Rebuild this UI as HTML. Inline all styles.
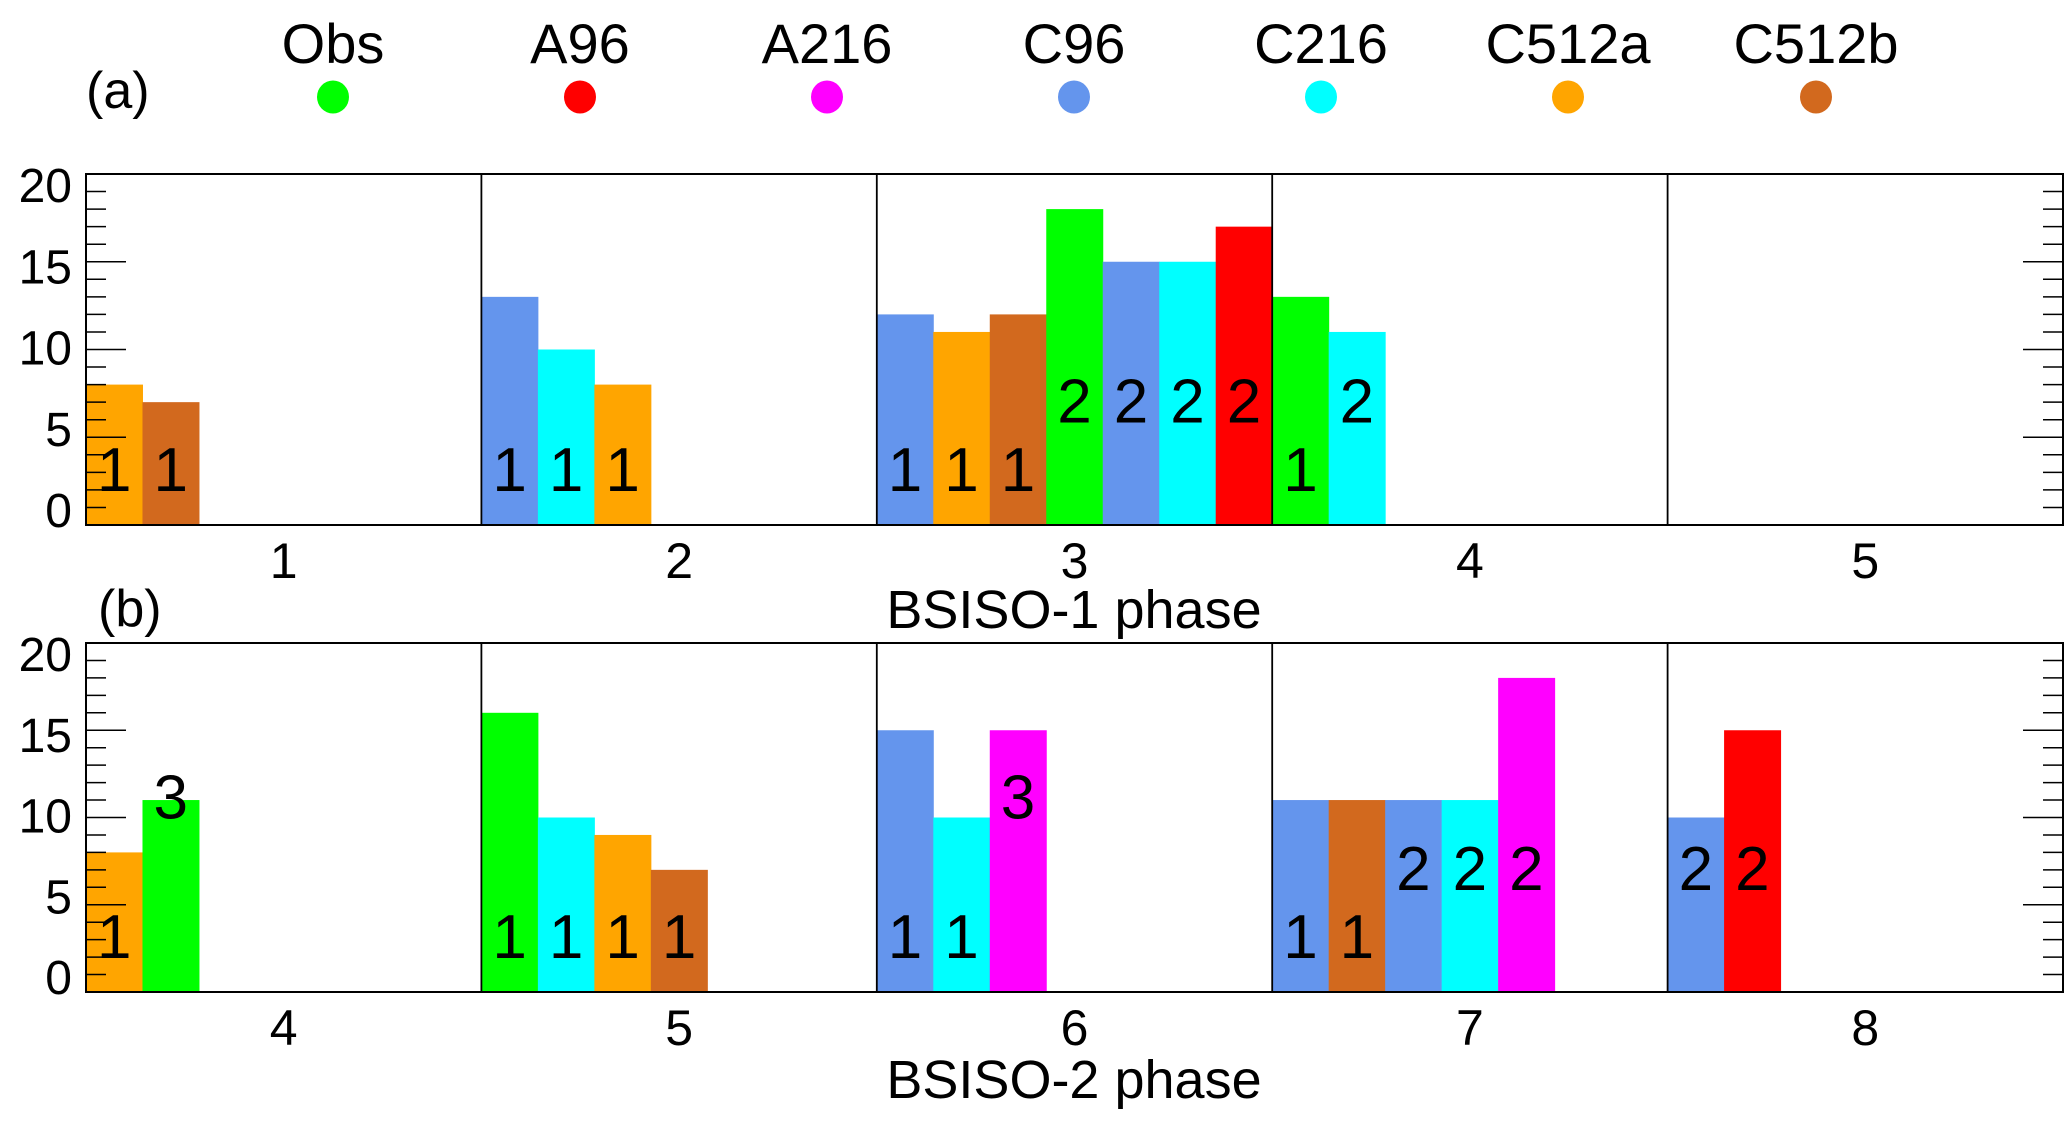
<!DOCTYPE html>
<html><head><meta charset="utf-8">
<style>
html,body{margin:0;padding:0;background:#fff;}
svg{display:block;font-family:"Liberation Sans",sans-serif;}
</style></head>
<body>
<svg id="chart" width="2066" height="1124" viewBox="0 0 2066 1124" xmlns="http://www.w3.org/2000/svg"></svg>
<script>
// ---- data ----
const legendNames = ["Obs","A96","A216","C96","C216","C512a","C512b"];
const legendColors = ["#00ff00","#ff0000","#ff00ff","#6495ed","#00ffff","#ffa500","#d2691e"];
const yTicks = [0,5,10,15,20];
const phasesA = [1,2,3,4,5];
const phasesB = [4,5,6,7,8];
// panel a bars
const aPhase = [1,1, 2,2,2, 3,3,3,3,3,3,3, 4,4];
const aModel = ["C512a","C512b", "C96","C216","C512a", "C96","C512a","C512b","Obs","C96","C216","A96", "Obs","C216"];
const aValue = [8,7, 13,10,8, 12,11,12,18,15,15,17, 13,11];
const aRank  = [1,1, 1,1,1, 1,1,1,2,2,2,2, 1,2];
// panel b bars
const bPhase = [4,4, 5,5,5,5, 6,6,6, 7,7,7,7,7, 8,8];
const bModel = ["C512a","Obs", "Obs","C216","C512a","C512b", "C96","C216","A216", "C96","C512b","C96","C216","A216", "C96","A96"];
const bValue = [8,11, 16,10,9,7, 15,10,15, 11,11,11,11,18, 10,15];
const bRank  = [1,3, 1,1,1,1, 1,1,3, 1,1,2,2,2, 2,2];
const rankLabelValue = [0,3.2,7.1,11.2];

// ---- layout ----
const NS = "http://www.w3.org/2000/svg";
const svg = document.getElementById("chart");
const X0 = 86, X1 = 2063, NP = 5, PW = (X1 - X0) / NP, SLOT = PW / 7;
function mk(tag, attrs, parent){
  const e = document.createElementNS(NS, tag);
  for (const k in attrs) e.setAttribute(k, attrs[k]);
  (parent || svg).appendChild(e);
  return e;
}
function colorOf(m){ return legendColors[legendNames.indexOf(m)]; }

// legend
const legCx = [333,580,827,1074,1321,1568,1816];
legendNames.forEach((n, i) => {
  const g = mk("g", {});
  
  
  const t = mk("text", {x: legCx[i], y: 63, "font-size": 56, "text-anchor": "middle", fill: "#000"}, g);
  t.textContent = n;
  mk("ellipse", {cx: legCx[i], cy: 97, rx: 16, ry: 16.5, fill: legendColors[i]}, g);
});

function panel(key, top, bottom, phases, bp, bm, bv, br, titleText, letter, letterX, letterY, titleY){
  const g = mk("g", {});
  
  
  const yS = v => bottom - v / 20 * (bottom - top);
  const phaseIdx = p => phases.indexOf(p);
  const count = {};
  bp.forEach((p, i) => {
    const pi = phaseIdx(p);
    count[p] = (count[p] || 0);
    const x = X0 + pi * PW + count[p] * SLOT;
    count[p]++;
    const r = mk("rect", {x: x, y: yS(bv[i]), width: SLOT + 0.5, height: yS(0) - yS(bv[i]), fill: colorOf(bm[i])}, g);
    
    
    const t = mk("text", {x: x + SLOT / 2, y: yS(rankLabelValue[br[i]]) + 22, "font-size": 62, "text-anchor": "middle", fill: "#000"}, g);
    
    
    t.textContent = br[i];
  });
  mk("rect", {x: X0, y: top, width: X1 - X0, height: bottom - top, fill: "none", stroke: "#000", "stroke-width": 2}, g);
  for (let k = 1; k < NP; k++) {
    mk("line", {x1: X0 + k * PW, x2: X0 + k * PW, y1: top, y2: bottom, stroke: "#000", "stroke-width": 1.8}, g);
  }
  for (let v = 0; v <= 20; v++) {
    const len = v % 5 === 0 ? 40 : 20;
    const y = yS(v);
    mk("line", {x1: X0, x2: X0 + len, y1: y, y2: y, stroke: "#000", "stroke-width": 1.5}, g);
    mk("line", {x1: X1, x2: X1 - len, y1: y, y2: y, stroke: "#000", "stroke-width": 1.5}, g);
  }
  yTicks.forEach(v => {
    const ly = (top + 11) + (20 - v) / 20 * ((bottom - 15) - (top + 11));
    const t = mk("text", {x: 72, y: ly + 17, "font-size": 48, "text-anchor": "end", fill: "#000"}, g);
    
    
    t.textContent = v;
  });
  phases.forEach((p, i) => {
    const t = mk("text", {x: X0 + (i + 0.5) * PW, y: bottom + 53, "font-size": 50, "text-anchor": "middle", fill: "#000"}, g);
    
    
    t.textContent = p;
  });
  const tt = mk("text", {x: 1074, y: titleY, "font-size": 54, "text-anchor": "middle", fill: "#000"}, g);
  
  
  tt.textContent = titleText;
  const lt = mk("text", {x: letterX, y: letterY, "font-size": 52, fill: "#000"}, g);
  
  
  lt.textContent = letter;
}
panel("a", 174, 525, phasesA, aPhase, aModel, aValue, aRank, "BSISO-1 phase", "(a)", 86, 108, 628);
panel("b", 643, 992, phasesB, bPhase, bModel, bValue, bRank, "BSISO-2 phase", "(b)", 98, 626, 1098);
</script>
</body></html>
